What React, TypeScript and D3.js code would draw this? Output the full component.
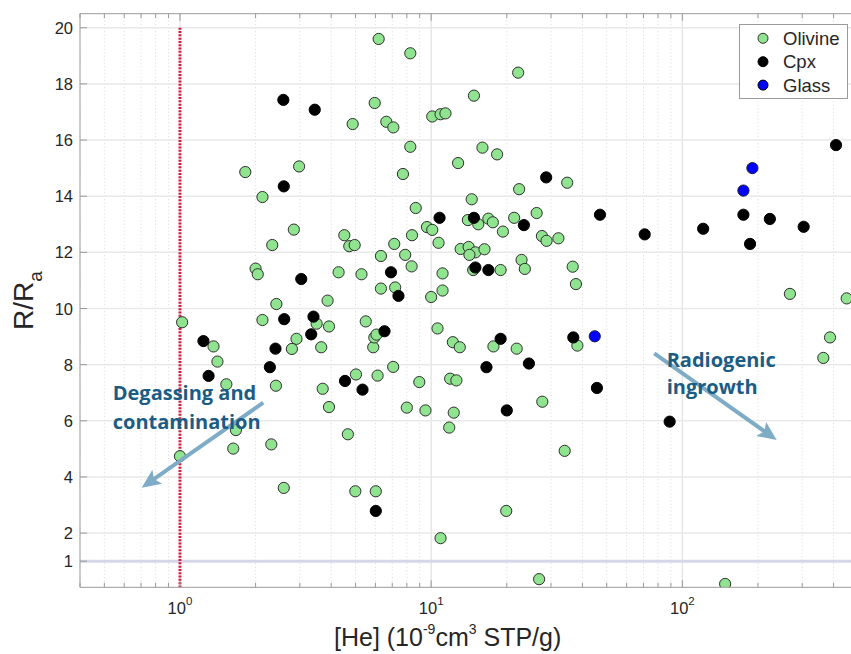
import React from 'react';
import * as d3 from 'd3';

// [He] (1e-9 cm3 STP/g), R/Ra
const olivine: [number, number][] = [
  [1.02, 9.51], [1.82, 14.86], [2.98, 15.06], [2.13, 13.97], [2.84, 12.81], [2.33, 12.26],
  [2.0, 11.42], [2.04, 11.22], [2.42, 10.16], [2.13, 9.59], [1.36, 8.65], [2.91, 8.92],
  [2.79, 8.56], [1.41, 8.11], [1.53, 7.3], [2.41, 7.25], [1.67, 5.67], [1.63, 5.01],
  [2.31, 5.16], [1.0, 4.74], [2.59, 3.61], [6.18, 19.6], [8.26, 19.09], [22.2, 18.4],
  [5.96, 17.32], [14.8, 17.58], [4.87, 16.57], [6.63, 16.65], [7.07, 16.45], [10.1, 16.84],
  [10.9, 16.92], [11.4, 16.95], [8.26, 15.76], [16.0, 15.73], [18.3, 15.49], [12.8, 15.18],
  [7.72, 14.79], [34.8, 14.48], [22.4, 14.25], [14.5, 13.89], [8.68, 13.58], [14.0, 13.15],
  [15.4, 13.0], [16.9, 13.2], [17.6, 13.07], [21.4, 13.23], [26.3, 13.4], [19.3, 12.74],
  [9.62, 12.9], [10.1, 12.8], [4.51, 12.61], [4.72, 12.22], [4.96, 12.26], [8.39, 12.61],
  [10.7, 12.34], [7.13, 12.3], [27.6, 12.58], [28.8, 12.41], [32.1, 12.5], [13.1, 12.12],
  [14.1, 12.19], [15.0, 12.0], [14.2, 11.91], [16.3, 12.11], [6.31, 11.87], [7.88, 11.91],
  [4.28, 11.29], [5.28, 11.22], [8.36, 11.5], [11.1, 11.25], [6.31, 10.71], [7.19, 10.75],
  [10.0, 10.41], [11.1, 10.64], [14.7, 11.37], [18.9, 11.37], [22.9, 11.73], [23.6, 11.41],
  [36.6, 11.49], [37.7, 10.87], [3.87, 10.28], [3.5, 9.46], [3.92, 9.36], [5.49, 9.54],
  [10.6, 9.29], [3.65, 8.62], [5.88, 8.62], [5.94, 8.97], [6.06, 9.07], [12.2, 8.8],
  [13.0, 8.62], [17.7, 8.65], [21.9, 8.57], [38.2, 8.68], [5.02, 7.65], [6.12, 7.61],
  [7.06, 7.92], [3.7, 7.14], [3.92, 6.49], [4.66, 5.52], [8.0, 6.47], [8.97, 7.38],
  [9.49, 6.37], [11.9, 7.5], [12.6, 7.44], [12.3, 6.29], [11.8, 5.76], [27.7, 6.68],
  [34.0, 4.93], [4.99, 3.49], [6.02, 3.49], [19.9, 2.79], [10.9, 1.82], [26.9, 0.36],
  [268, 10.52], [451, 10.36], [387, 8.97], [364, 8.24], [148, 0.19],
];

const cpx: [number, number][] = [
  [2.58, 17.43], [3.44, 17.08], [2.59, 14.35], [3.04, 11.05], [2.6, 9.62], [1.24, 8.84],
  [2.4, 8.57], [2.28, 7.91], [1.3, 7.6], [10.8, 13.23], [14.8, 13.23], [28.7, 14.67],
  [23.4, 12.97], [6.92, 11.29], [7.41, 10.45], [15.0, 11.46], [16.9, 11.37], [3.4, 9.71],
  [3.33, 9.08], [6.52, 9.19], [18.9, 8.92], [36.8, 8.97], [4.54, 7.42], [5.33, 7.11],
  [16.6, 7.91], [24.5, 8.04], [20.0, 6.37], [6.02, 2.79], [47.0, 13.34], [70.8, 12.64],
  [175, 13.34], [223, 13.19], [121, 12.84], [186, 12.3], [304, 12.91], [409, 15.82],
  [45.7, 7.17], [89.0, 5.97],
];

const glass: [number, number][] = [
  [190, 15.0], [175, 14.2], [44.8, 9.01],
];

const yTickValues = [1, 2, 4, 6, 8, 10, 12, 14, 16, 18, 20];
const xDecadeExponents = [0, 1, 2];
const legendLabels = ['Olivine', 'Cpx', 'Glass'];
const legendFills = ['#90e490', '#000000', '#0000ff'];

// detection limit marker and air reference
const heThreshold = 1;
const airRatio = 1;

// process annotations: [x, y] in data units
const degassingArrow: [number, number][] = [[2.146, 6.645], [0.704, 3.618]];
const radiogenicArrow: [number, number][] = [[77.3, 8.4], [237.4, 5.32]];
const degassingText = { x: 0.54, lines: ['Degassing and', 'contamination'], y: [6.74, 5.72] };
const radiogenicText = { x: 86.6, lines: ['Radiogenic', 'ingrowth'], y: [7.93, 6.95] };

const W = 851;
const H = 654;
const left = 80;
const top = 13.7;
const bottom = 587.3;
const decadePx = 251.2;
const xDomain: [number, number] = [0.4, 500];
const yDomain: [number, number] = [0.07, 20.5];

const AXIS = '#9a9a9a';
const TEXT = '#262626';
const ARROW = '#7eabc5';
const NOTE = '#1b5c85';
const FONT = '"Liberation Sans", Arial, Helvetica, sans-serif';

function Arrow({ x1, y1, x2, y2 }: { x1: number; y1: number; x2: number; y2: number }) {
  const dx = x2 - x1;
  const dy = y2 - y1;
  const len = Math.hypot(dx, dy);
  const ux = dx / len;
  const uy = dy / len;
  const px = -uy;
  const py = ux;
  const headLen = 19;
  const halfW = 8.5;
  const notch = 4;
  const bx = x2 - ux * headLen;
  const by = y2 - uy * headLen;
  const nx = bx + ux * notch;
  const ny = by + uy * notch;
  const pts = [
    [x2, y2],
    [bx + px * halfW, by + py * halfW],
    [nx, ny],
    [bx - px * halfW, by - py * halfW],
  ];
  return (
    <g>
      <line x1={x1} y1={y1} x2={nx + ux * 1} y2={ny + uy * 1} stroke={ARROW} strokeWidth={4} />
      <polygon points={pts.map((p) => p.join(',')).join(' ')} fill={ARROW} />
    </g>
  );
}

export default function App() {
  const x = d3
    .scaleLog()
    .domain(xDomain)
    .range([left, left + decadePx * Math.log10(xDomain[1] / xDomain[0])]);
  const y = d3.scaleLinear().domain(yDomain).range([bottom, top]);
  const right = x.range()[1];

  const allXTicks = x.ticks();
  const isDecade = (v: number) => Math.abs(Math.log10(v) - Math.round(Math.log10(v))) < 1e-9;
  const minorX = allXTicks.filter((v) => !isDecade(v));
  const majorX = xDecadeExponents.map((e) => Math.pow(10, e));

  const series = [
    { data: olivine, fill: legendFills[0], stroke: '#2e2e2e' },
    { data: cpx, fill: legendFills[1], stroke: '#000' },
    { data: glass, fill: legendFills[2], stroke: '#1a1a40' },
  ];

  return (
    <svg
      width={W}
      height={H}
      style={{ position: 'absolute', left: 0, top: 0, background: '#fff' }}
      fontFamily={FONT}
    >
      <defs>
        <clipPath id="plot-area">
          <rect x={left} y={top} width={right - left} height={bottom - top} />
        </clipPath>
      </defs>
      <rect x={0} y={0} width={W} height={H} fill="#fff" />

      {/* grid */}
      <g>
        {minorX.map((v) => (
          <line key={'mg' + v} x1={x(v)} x2={x(v)} y1={top} y2={bottom} stroke="#d9d9d9" strokeWidth={1} strokeDasharray="1,2.5" />
        ))}
        {majorX.map((v) => (
          <line key={'Mg' + v} x1={x(v)} x2={x(v)} y1={top} y2={bottom} stroke="#e6e6e6" strokeWidth={1.5} />
        ))}
        {yTickValues.map((v) => (
          <line key={'yg' + v} x1={left} x2={right} y1={y(v)} y2={y(v)} stroke="#e9e9e9" strokeWidth={1.5} />
        ))}
      </g>

      {/* air reference line */}
      <line x1={left} x2={right} y1={y(airRatio)} y2={y(airRatio)} stroke="#d6d6ea" strokeWidth={3} />

      {/* [He] threshold */}
      <line
        x1={x(heThreshold)}
        x2={x(heThreshold)}
        y1={y(20)}
        y2={bottom}
        stroke="#d3213d"
        strokeWidth={3}
        strokeDasharray="2,1.3"
      />

      {/* points */}
      <g clipPath="url(#plot-area)">
        {series.map((s, i) => (
          <g key={i}>
            {s.data.map((d, j) => (
              <circle key={j} cx={x(d[0])} cy={y(d[1])} r={5.6} fill={s.fill} stroke={s.stroke} strokeWidth={1} />
            ))}
          </g>
        ))}
      </g>

      {/* annotations */}
      <Arrow x1={x(degassingArrow[0][0])} y1={y(degassingArrow[0][1])} x2={x(degassingArrow[1][0])} y2={y(degassingArrow[1][1])} />
      <Arrow x1={x(radiogenicArrow[0][0])} y1={y(radiogenicArrow[0][1])} x2={x(radiogenicArrow[1][0])} y2={y(radiogenicArrow[1][1])} />
      {[degassingText, radiogenicText].map((t, i) => (
        <g key={'note' + i} fontFamily='"Open Sans", "Noto Sans", sans-serif' fontWeight={700} fontSize={20} fill={NOTE}>
          {t.lines.map((line, k) => (
            <text key={k} x={x(t.x)} y={y(t.y[k])}>
              {line}
            </text>
          ))}
        </g>
      ))}

      {/* axes box */}
      <g stroke={AXIS} strokeWidth={1} fill="none">
        <line x1={left} x2={right} y1={bottom} y2={bottom} />
        <line x1={left} x2={right} y1={top} y2={top} />
        <line x1={left} x2={left} y1={top} y2={bottom} />
        <line x1={right} x2={right} y1={top} y2={bottom} />
        {minorX.map((v) => (
          <g key={'mt' + v}>
            <line x1={x(v)} x2={x(v)} y1={bottom} y2={bottom - 4.5} />
            <line x1={x(v)} x2={x(v)} y1={top} y2={top + 4.5} />
          </g>
        ))}
        {majorX.map((v) => (
          <g key={'Mt' + v}>
            <line x1={x(v)} x2={x(v)} y1={bottom} y2={bottom - 7} />
            <line x1={x(v)} x2={x(v)} y1={top} y2={top + 7} />
          </g>
        ))}
        {yTickValues.map((v) => (
          <g key={'yt' + v}>
            <line x1={left} x2={left + 7} y1={y(v)} y2={y(v)} />
            <line x1={right} x2={right - 7} y1={y(v)} y2={y(v)} />
          </g>
        ))}
      </g>

      {/* tick labels */}
      <g fill={TEXT} fontSize={16.5}>
        {yTickValues.map((v) => (
          <text key={'yl' + v} x={left - 7} y={y(v)} textAnchor="end" dominantBaseline="central">
            {v}
          </text>
        ))}
        {xDecadeExponents.map((e) => (
          <text key={'xl' + e} x={x(Math.pow(10, e))} y={614} textAnchor="middle">
            10
            <tspan dy={-9} fontSize={11.5}>
              {e}
            </tspan>
          </text>
        ))}
      </g>

      {/* axis titles */}
      <text x={334} y={646} fill={TEXT} fontSize={25}>
        [He] (10
        <tspan dy={-12} fontSize={14}>-9</tspan>
        <tspan dy={12}>cm</tspan>
        <tspan dy={-12} fontSize={14}>3</tspan>
        <tspan dy={12}> STP/g)</tspan>
      </text>
      <text transform={`translate(33, ${(top + bottom) / 2}) rotate(-90)`} textAnchor="middle" fill={TEXT} fontSize={28}>
        R/R
        <tspan dy={9} fontSize={19}>a</tspan>
      </text>

      {/* legend */}
      <g>
        <rect x={739.5} y={24.5} width={108} height={74} fill="#fff" stroke="#9a9a9a" strokeWidth={1} />
        {legendLabels.map((label, i) => (
          <g key={label}>
            <circle cx={763} cy={38.3 + i * 23.4} r={5} fill={legendFills[i]} stroke={i === 0 ? '#2e2e2e' : '#000'} strokeWidth={1} />
            <text x={783} y={38.3 + i * 23.4} dominantBaseline="central" fontSize={18.5} fill={TEXT}>
              {label}
            </text>
          </g>
        ))}
      </g>
    </svg>
  );
}
